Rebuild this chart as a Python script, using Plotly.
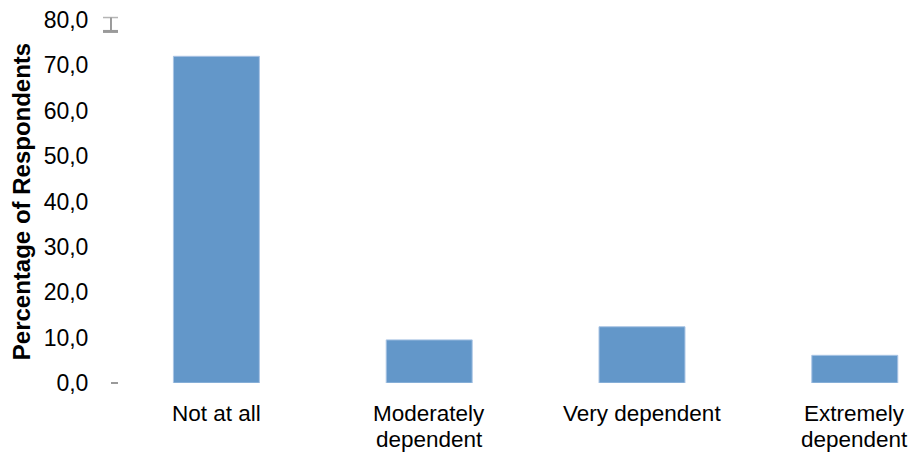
import plotly.graph_objects as go

# Survey responses: degree of dependence
categories = ["Not at all", "Moderately<br>dependent", "Very dependent", "Extremely<br>dependent"]
percentages = [72.0, 9.5, 12.4, 6.1]
y_ticks = [0, 10, 20, 30, 40, 50, 60, 70, 80]

FONT = "Liberation Sans, Arial, sans-serif"
BAR_COLOR = "#6397C9"
TEXT_SIZE = 23
LABEL_SIZE = 22.5

fig = go.Figure()
fig.add_trace(go.Bar(
    x=list(range(len(categories))),
    y=percentages,
    width=0.404,
    marker=dict(color=BAR_COLOR, line=dict(color="#A9C4E4", width=1)),
    hoverinfo="y",
))

# Category labels, one annotation per text line with tight line spacing
annotations = []
line_gap = 25.5
for i, label in enumerate(categories):
    for j, line in enumerate(label.split("<br>")):
        annotations.append(dict(
            x=i, y=0, xref="x", yref="y",
            text=line, showarrow=False,
            xanchor="center", yanchor="top",
            yshift=-16 - j * line_gap,
            font=dict(family=FONT, size=LABEL_SIZE, color="#000000"),
        ))

# Small grey axis end marks
grey = "#9A9A9A"
shapes = [
    dict(type="line", xref="paper", yref="paper", x0=-0.0087, x1=0.0099, y0=1.0068, y1=1.0068,
         line=dict(color="#B5B5B5", width=1.5)),
    dict(type="line", xref="paper", yref="paper", x0=0.0012, x1=0.0012, y0=1.0068, y1=0.9685,
         line=dict(color=grey, width=2)),
    dict(type="line", xref="paper", yref="paper", x0=-0.0087, x1=0.0099, y0=0.9685, y1=0.9685,
         line=dict(color=grey, width=3)),
    dict(type="line", xref="paper", yref="paper", x0=0.0012, x1=0.0099, y0=0.0, y1=0.0,
         line=dict(color=grey, width=2)),
]

fig.update_layout(
    width=918, height=452,
    margin=dict(l=110, r=0, t=20, b=69),
    paper_bgcolor="white", plot_bgcolor="white",
    separators=", ",
    showlegend=False,
    annotations=annotations,
    shapes=shapes,
    font=dict(family=FONT, size=TEXT_SIZE, color="#000000"),
)
fig.update_xaxes(
    range=[-0.5, 3.297],
    showticklabels=False, showgrid=False, zeroline=False, showline=False, ticks="",
)
fig.update_yaxes(
    range=[0, 80],
    tickvals=y_ticks, tickformat=".1f",
    showgrid=False, zeroline=False, showline=False,
    ticks="outside", ticklen=16, tickcolor="rgba(0,0,0,0)",
    tickfont=dict(family=FONT, size=TEXT_SIZE, color="#000000"),
    title=dict(text="<b>Percentage of Respondents</b>",
               font=dict(family=FONT, size=24, color="#000000"), standoff=6),
    automargin=False,
)

fig.write_html("out.html")
